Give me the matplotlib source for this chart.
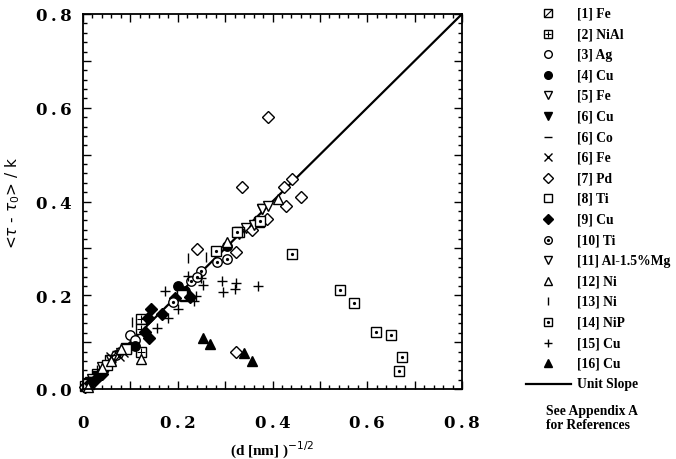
import numpy as np
import matplotlib
matplotlib.use("Agg")
import matplotlib.pyplot as plt
from matplotlib.ticker import MultipleLocator

# DATA
fe1_x = [0.005, 0.012, 0.03, 0.058, 0.09]
fe1_y = [0.006, 0.010, 0.032, 0.062, 0.088]

nial_x = [0.122, 0.122, 0.122, 0.215, 0.010]
nial_y = [0.149, 0.127, 0.078, 0.198, 0.012]

ag_x = [0.005, 0.010, 0.020, 0.045, 0.070, 0.100, 0.110]
ag_y = [0.004, 0.008, 0.022, 0.046, 0.072, 0.115, 0.104]

cu4_x = [0.010, 0.020, 0.030, 0.040, 0.109, 0.201, 0.303, 0.215]
cu4_y = [0.012, 0.018, 0.026, 0.036, 0.092, 0.219, 0.306, 0.210]

fe5_x = [0.020, 0.040, 0.060, 0.080, 0.345, 0.377]
fe5_y = [0.022, 0.046, 0.062, 0.076, 0.343, 0.384]

cu6_x = [0.015, 0.030, 0.050]
cu6_y = [0.014, 0.027, 0.044]

co6_x = [0.020, 0.050, 0.072]
co6_y = [0.026, 0.056, 0.082]

fe6_x = [0.060, 0.075, 0.085]
fe6_y = [0.068, 0.070, 0.080]

pd_x = [0.391, 0.336, 0.441, 0.424, 0.460, 0.428, 0.388, 0.357, 0.240, 0.324, 0.323, 0.005, 0.012]
pd_y = [0.580, 0.432, 0.449, 0.432, 0.410, 0.391, 0.363, 0.339, 0.299, 0.292, 0.080, 0.004, 0.006]

ti8_x = [0.010, 0.050, 0.090, 0.210, 0.330, 0.372]
ti8_y = [0.010, 0.052, 0.086, 0.200, 0.335, 0.357]

cu9_x = [0.144, 0.137, 0.166, 0.140, 0.194, 0.225, 0.130, 0.015, 0.025, 0.040]
cu9_y = [0.171, 0.151, 0.160, 0.108, 0.194, 0.197, 0.121, 0.012, 0.020, 0.032]

ti10_x = [0.189, 0.229, 0.250, 0.282, 0.303, 0.240]
ti10_y = [0.185, 0.231, 0.251, 0.272, 0.278, 0.238]

almg_x = [0.362, 0.377, 0.390, 0.330]
almg_y = [0.350, 0.385, 0.390, 0.330]

ni12_x = [0.412, 0.303, 0.122, 0.040, 0.060, 0.080, 0.010]
ni12_y = [0.405, 0.313, 0.064, 0.045, 0.060, 0.085, 0.005]

ni13_x = [0.221, 0.259, 0.104, 0.030]
ni13_y = [0.280, 0.282, 0.144, 0.040]

nip_x = [0.441, 0.543, 0.571, 0.619, 0.650, 0.674, 0.666, 0.326, 0.374, 0.280]
nip_y = [0.288, 0.212, 0.183, 0.122, 0.115, 0.068, 0.038, 0.334, 0.358, 0.294]

cu15_x = [0.370, 0.323, 0.321, 0.293, 0.295, 0.222, 0.254, 0.249, 0.235, 0.238,
          0.173, 0.201, 0.180, 0.157]
cu15_y = [0.219, 0.226, 0.213, 0.230, 0.208, 0.242, 0.222, 0.236, 0.188, 0.199,
          0.210, 0.171, 0.152, 0.131]

cu16_x = [0.254, 0.268, 0.340, 0.356]
cu16_y = [0.109, 0.096, 0.076, 0.060]

labels = ["[1] Fe", "[2] NiAl", "[3] Ag", "[4] Cu", "[5] Fe", "[6] Cu", "[6] Co",
          "[6] Fe", "[7] Pd", "[8] Ti", "[9] Cu", "[10] Ti", "[11] Al-1.5%Mg",
          "[12] Ni", "[13] Ni", "[14] NiP", "[15] Cu", "[16] Cu"]

diag = [(-1, -1), (1, 1)]

# (x, y, marker, filled, inner marker)
series = [
    (fe1_x, fe1_y, "s", False, diag),
    (nial_x, nial_y, "s", False, "+"),
    (ag_x, ag_y, "o", False, None),
    (cu4_x, cu4_y, "o", True, None),
    (fe5_x, fe5_y, "v", False, None),
    (cu6_x, cu6_y, "v", True, None),
    (co6_x, co6_y, "_", False, None),
    (fe6_x, fe6_y, "x", False, None),
    (pd_x, pd_y, "D", False, None),
    (ti8_x, ti8_y, "s", False, None),
    (cu9_x, cu9_y, "D", True, None),
    (ti10_x, ti10_y, "o", False, "."),
    (almg_x, almg_y, "v", False, None),
    (ni12_x, ni12_y, "^", False, None),
    (ni13_x, ni13_y, "|", False, None),
    (nip_x, nip_y, "s", False, "."),
    (cu15_x, cu15_y, "+", False, None),
    (cu16_x, cu16_y, "^", True, None),
]


def draw_marker(a, x, y, m, filled, inner, ms):
    small = 0.85 if m == "D" else 1.0
    a.plot(x, y, linestyle="none", marker=m, markersize=ms * small,
           markerfacecolor="black" if filled else "white",
           markeredgecolor="black", markeredgewidth=1.0, clip_on=False)
    if inner is not None:
        if inner == ".":
            a.plot(x, y, linestyle="none", marker="o", markersize=1.3,
                   color="black", clip_on=False)
        else:
            a.plot(x, y, linestyle="none", marker=inner, markersize=ms * 0.9,
                   color="black", markeredgewidth=0.8, clip_on=False)


def spaced(s):
    return "\u2009".join(s)


fig = plt.figure(figsize=(6.76, 4.6), dpi=100)
ax = fig.add_axes([83 / 676, 70 / 460, 379 / 676, 375 / 460])

# Unit slope
ax.plot([0, 0.8], [0, 0.8], color="black", linewidth=1.6)

for x, y, m, filled, inner in series:
    draw_marker(ax, x, y, m, filled, inner, 6.8)

ax.set_xlim(0, 0.8)
ax.set_ylim(0, 0.8)
ax.xaxis.set_major_locator(MultipleLocator(0.1))
ax.xaxis.set_minor_locator(MultipleLocator(0.02))
ax.yaxis.set_major_locator(MultipleLocator(0.1))
ax.yaxis.set_minor_locator(MultipleLocator(0.02))
ax.tick_params(which="both", direction="in", top=True, right=True, width=1.0)
ax.tick_params(which="major", length=6)
ax.tick_params(which="minor", length=3)

ax.xaxis.set_major_formatter(plt.FuncFormatter(
    lambda v, p: ("0" if abs(v) < 1e-9 else spaced(f"{v:.1f}")) if round(v * 10) % 2 == 0 else ""))
ax.yaxis.set_major_formatter(plt.FuncFormatter(
    lambda v, p: spaced(f"{v:.1f}") if round(v * 10) % 2 == 0 else ""))
for lab in ax.get_xticklabels() + ax.get_yticklabels():
    lab.set_fontfamily("DejaVu Serif")
    lab.set_fontweight("bold")
    lab.set_fontsize(12)
ax.tick_params(axis="x", pad=18)
ax.tick_params(axis="y", pad=8)
for sp in ax.spines.values():
    sp.set_linewidth(1.3)

ax.set_xlabel("(d [nm] )$^{-1/2}$", family="Liberation Serif", weight="bold",
              fontsize=11, labelpad=6)
ax.set_ylabel(r"<$\tau$ - $\tau_0$> / k", family="DejaVu Sans", fontsize=11,
              labelpad=10)

# LEGEND (drawn in a separate axes in pixel units)
lax = fig.add_axes([0, 0, 1, 1], facecolor="none")
lax.set_xlim(0, 676)
lax.set_ylim(460, 0)
lax.axis("off")
row0, step = 14, 20.6
for i, (lab, (x, y, m, filled, inner)) in enumerate(zip(labels, series)):
    yy = row0 + i * step
    draw_marker(lax, [548], [yy], m, filled, inner, 5.5)
    lax.text(577, yy, lab, family="Liberation Serif", weight="bold",
             fontsize=9.8, va="center", ha="left")
yy = row0 + len(labels) * step
lax.plot([526, 571], [yy, yy], color="black", linewidth=1.6)
lax.text(577, yy, "Unit Slope", family="Liberation Serif", weight="bold",
         fontsize=9.8, va="center", ha="left")
lax.text(546, 412, "See Appendix A", family="Liberation Serif", weight="bold",
         fontsize=9.8, va="center", ha="left")
lax.text(546, 426, "for References", family="Liberation Serif", weight="bold",
         fontsize=9.8, va="center", ha="left")

fig.savefig("out.png", dpi=100)
